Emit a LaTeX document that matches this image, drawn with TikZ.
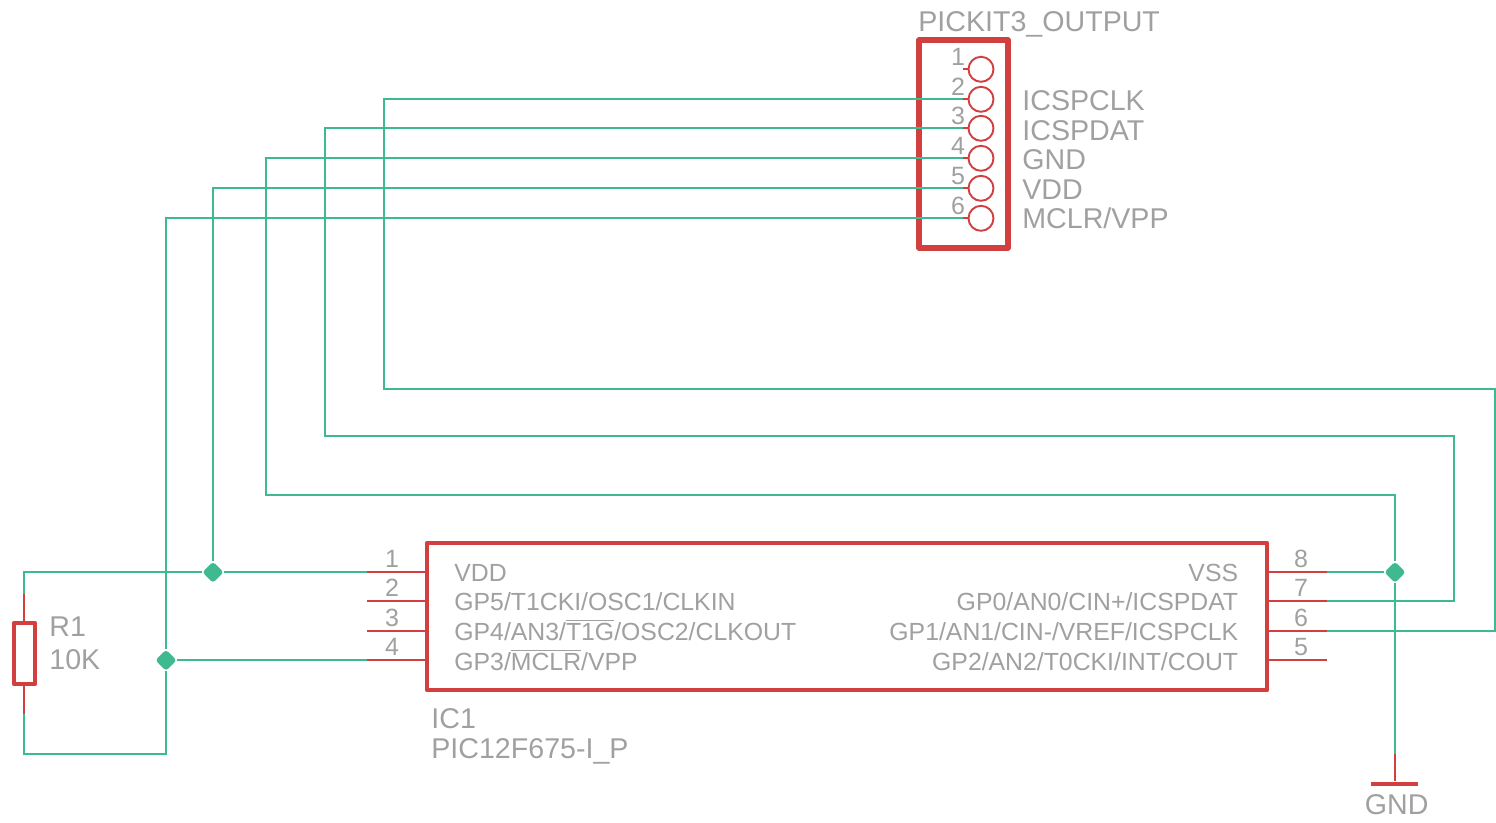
\documentclass[tikz,border=0pt]{standalone}
\usepackage{fontspec}
\setmainfont{Liberation Sans}
\usetikzlibrary{shapes.geometric}
\definecolor{sred}{HTML}{D13F3F}
\definecolor{sgreen}{HTML}{3EB990}
\definecolor{sgray}{HTML}{A0A0A0}
\newcommand{\ovl}[1]{$\overline{\hbox{#1}}$}
\tikzset{
  wire/.style={draw=sgreen,line width=1.05pt,line join=miter},
  pinline/.style={draw=sred,line width=1.05pt},
  body/.style={draw=sred,line width=2.4pt,line join=round},
  lead/.style={draw=sred,line width=0.95pt,circle,inner sep=0pt,minimum size=12.5pt,fill=white},
  junct/.style={shape=diamond,fill=sgreen,inner sep=0pt,minimum size=10.8pt,rounded corners=1.6pt},
  big/.style={text=sgray,inner sep=0pt,font=\fontsize{14.3}{16}\selectfont,anchor=base west},
  lbl/.style={text=sgray,inner sep=0pt,font=\fontsize{12.4}{14}\selectfont,anchor=base west},
  lblr/.style={text=sgray,inner sep=0pt,font=\fontsize{12.4}{14}\selectfont,anchor=base east},
  num/.style={text=sgray,inner sep=0pt,font=\fontsize{12.5}{14}\selectfont,anchor=base},
}
\begin{document}
\begin{tikzpicture}[x=0.5pt,y=-0.5pt]
\useasboundingbox (0,0) rectangle (1496,823);
% Header
\foreach \n/\y in {1/69,2/99,3/128,4/158,5/188,6/218}{
  \node[lead] (h\n) at (981,\y+0.3) {};
  \coordinate (hp\n) at (963,\y);
  \draw[pinline] (hp\n) -- (h\n.west |- hp\n);
  \node[num] (hn\n) at (958,\y-3.5) {\n};
}
\node[big] (hname) at (918,31.3) {PICKIT3\_OUTPUT};
\foreach \n/\t/\y in {2/ICSPCLK/111,3/ICSPDAT/141,4/GND/170,5/VDD/200,6/MCLR\slash VPP/229}{
  \node[big] (hs\n) at (1022,\y) {\t};
}
\node[body,line width=2.6pt,draw,inner sep=0pt,minimum width=44.5pt,minimum height=104pt] (hbox) at (963.5,144) {};
% IC
\node[body,draw,inner sep=0pt,minimum width=420pt,minimum height=73.5pt] (ic) at (847,616.5) {};
\foreach \n/\y in {1/572,2/601,3/631,4/660}{
  \coordinate (il\n) at (367,\y+0.3);
  \coordinate (ib\n) at (427,\y+0.3);
  \draw[pinline] (il\n) -- (ib\n);
  \node[num] (in\n) at (392,\y-4) {\n};
}
\foreach \n/\y in {8/572,7/601,6/631,5/660}{
  \coordinate (ir\n) at (1327,\y+0.3);
  \coordinate (ic\n) at (1267,\y+0.3);
  \draw[pinline] (ic\n) -- (ir\n);
  \node[num] (in\n) at (1301,\y-4) {\n};
}
\node[lbl] (t1) at (454,582) {VDD};
\node[lbl] (t2) at (454,610.5) {GP5/T1CKI/OSC1/CLKIN};
\node[lbl] (t3) at (454,640.5) {GP4/AN3/\ovl{T1G}/OSC2/CLKOUT};
\node[lbl] (t4) at (454,670.5) {GP3/\ovl{MCLR}/VPP};
\node[lblr] (t8) at (1238.5,581.5) {VSS};
\node[lblr] (t7) at (1238.5,610.5) {GP0/AN0/CIN+/ICSPDAT};
\node[lblr] (t6) at (1238.5,640.5) {GP1/AN1/CIN-/VREF/ICSPCLK};
\node[lblr] (t5) at (1238.5,670.5) {GP2/AN2/T0CKI/INT/COUT};
\node[big] (icn) at (431,729) {IC1};
\node[big] (icv) at (431,759) {PIC12F675-I\_P};
% Resistor
\coordinate (rt) at (24,594);
\coordinate (rb) at (24,714);
\node[body,draw,inner sep=0pt,minimum width=10.5pt,minimum height=30.5pt] (r1) at (24.5,653.5) {};
\draw[pinline] (rt) -- (rt |- r1.north);
\draw[pinline] (rb |- r1.south) -- (rb);
\node[big] (rn) at (49,637) {R1};
\node[big] (rv) at (49,670) {10K};
% GND symbol
\coordinate (gt) at (1395,753.7);
\node[inner sep=0pt,minimum width=23.5pt,minimum height=2.2pt,fill=sred] (gbar) at (1394.5,784) {};
\draw[pinline,line width=1.4pt] (gt) -- (gt |- gbar.north);
\node[big] (gn) at (1364.5,814) {GND};
% Junctions
\node[junct] (jv) at (213,572.3) {};
\node[junct] (jm) at (166,660.3) {};
\node[junct] (jg) at (1395,572.3) {};
% Wires
\draw[wire] (hp2) -| (384,388.7) -- (1495,388.7) |- (ir6);
\draw[wire] (hp3) -| (325,435.7) -- (1454,435.7) |- (ir7);
\draw[wire] (hp4) -| (266,494.7) -- (1395,494.7) -- (jg) -- (gt);
\draw[wire] (hp5) -| (jv);
\draw[wire] (hp6) -| (jm);
\draw[wire] (jm) -- (166,753.7) -- (24,753.7) -- (rb);
\draw[wire] (rt) |- (jv);
\draw[wire] (jv) -- (il1);
\draw[wire] (jm) -- (il4);
\draw[wire] (ir8) -- (jg);
\end{tikzpicture}
\end{document}
